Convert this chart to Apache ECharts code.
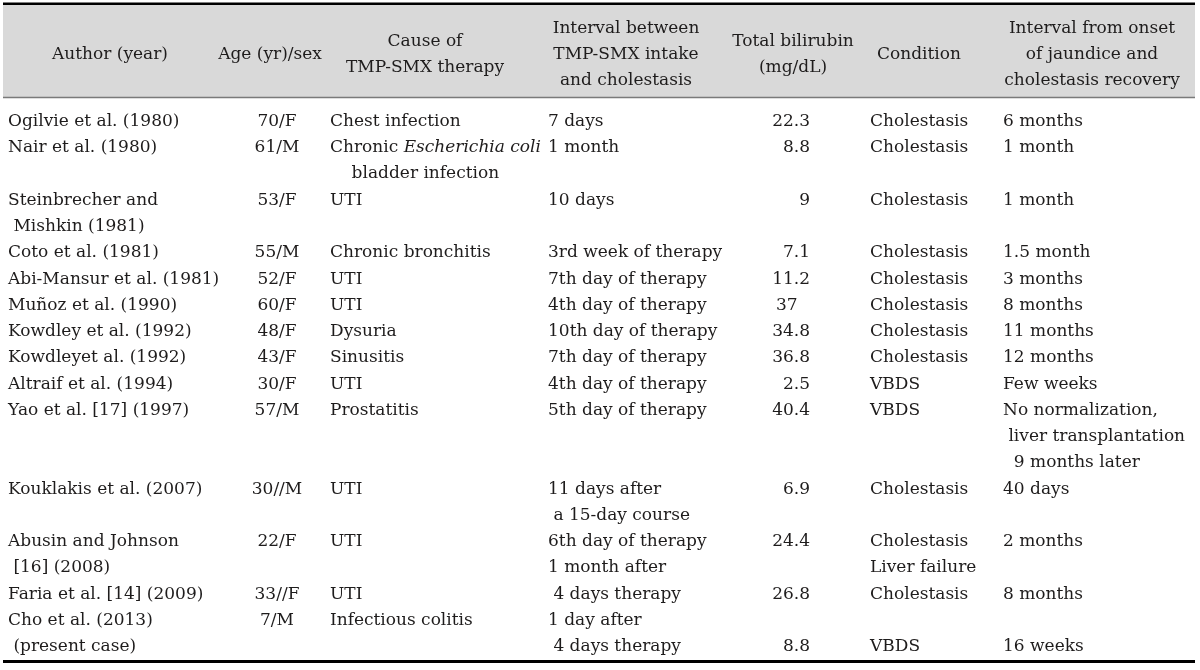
<!DOCTYPE html>
<html><head><meta charset="utf-8">
<script src="https://cdn.jsdelivr.net/npm/echarts@6/dist/echarts.min.js"></script>
<style>html,body{margin:0;padding:0;background:#fff}#c{width:1200px;height:670px}</style>
</head><body><div id="c"></div>
<script>
// ---------- DATA ----------
const headers = ["Author (year)", "Age (yr)/sex", "Cause of\nTMP-SMX therapy",
  "Interval between\nTMP-SMX intake\nand cholestasis", "Total bilirubin\n(mg/dL)",
  "Condition", "Interval from onset\nof jaundice and\ncholestasis recovery"];
const authors = ["Ogilvie et al. (1980)", "Nair et al. (1980)", "Steinbrecher and\n Mishkin (1981)",
  "Coto et al. (1981)", "Abi-Mansur et al. (1981)", "Muñoz et al. (1990)", "Kowdley et al. (1992)",
  "Kowdleyet al. (1992)", "Altraif et al. (1994)", "Yao et al. [17] (1997)", "Kouklakis et al. (2007)",
  "Abusin and Johnson\n [16] (2008)", "Faria et al. [14] (2009)", "Cho et al. (2013)\n (present case)"];
const ages = ["70/F", "61/M", "53/F", "55/M", "52/F", "60/F", "48/F", "43/F", "30/F", "57/M", "30//M", "22/F", "33//F", "7/M"];
const causes = ["Chest infection", "Chronic {i|Escherichia coli}\n    bladder infection", "UTI", "Chronic bronchitis",
  "UTI", "UTI", "Dysuria", "Sinusitis", "UTI", "Prostatitis", "UTI", "UTI", "UTI", "Infectious colitis"];
const intervals = ["7 days", "1 month", "10 days", "3rd week of therapy", "7th day of therapy", "4th day of therapy",
  "10th day of therapy", "7th day of therapy", "4th day of therapy", "5th day of therapy",
  "11 days after\n a 15-day course", "6th day of therapy\n1 month after", " 4 days therapy", "1 day after\n 4 days therapy"];
const bilirubin = [22.3, 8.8, 9, 7.1, 11.2, 37, 34.8, 36.8, 2.5, 40.4, 6.9, 24.4, 26.8, 8.8];
const conditions = ["Cholestasis", "Cholestasis", "Cholestasis", "Cholestasis", "Cholestasis", "Cholestasis",
  "Cholestasis", "Cholestasis", "VBDS", "VBDS", "Cholestasis", "Cholestasis\nLiver failure", "Cholestasis", "VBDS"];
const recovery = ["6 months", "1 month", "1 month", "1.5 month", "3 months", "8 months", "11 months", "12 months",
  "Few weeks", "No normalization,\n liver transplantation\n  9 months later", "40 days", "2 months", "8 months", "16 weeks"];

// ---------- LAYOUT ----------
const columns = [
  {values: authors,   x: 8,    align: 'left',   head: 110},
  {values: ages,      x: 277,  align: 'center', head: 270},
  {values: causes,    x: 330,  align: 'left',   head: 425},
  {values: intervals, x: 548,  align: 'left',   head: 626},
  {values: bilirubin.map(v => String(v)), x: 810, align: 'right', head: 793},
  {values: conditions, x: 870, align: 'left',   head: 919},
  {values: recovery,  x: 1003, align: 'left',   head: 1092}
];
// layout quirks of the source table
const lineOffset = {13: {4: 1, 5: 1, 6: 1}};       // row 13: last three cells sit on 2nd line
const alignOverride = {'5,4': {x: 776, align: 'left'}}; // "37" printed left
const headerCenterK = -2.552;
const FONT = '"DejaVu Serif", "Liberation Serif", serif';
const FS = 17;
const INK = '#1e1c1c';

// build text items
const items = [];
headers.forEach((h, c) => {
  const lines = h.split('\n');
  const start = headerCenterK - (lines.length - 1) / 2;
  lines.forEach((t, i) => items.push({x: columns[c].head, k: start + i, text: t, align: 'center'}));
});
let k0 = 0;
authors.forEach((_, r) => {
  let rowLines = 1;
  columns.forEach((col, c) => {
    const off = (lineOffset[r] && lineOffset[r][c]) || 0;
    const lines = col.values[r].split('\n');
    rowLines = Math.max(rowLines, lines.length + off);
    const ov = alignOverride[r + ',' + c] || {};
    lines.forEach((t, i) => items.push({
      x: ov.x !== undefined ? ov.x : col.x, k: k0 + off + i, text: t,
      align: ov.align || col.align
    }));
  });
  k0 += rowLines;
});
const totalLines = k0;

const chart = echarts.init(document.getElementById('c'), null, {renderer: 'canvas'});
chart.setOption({
  animation: false,
  backgroundColor: '#ffffff',
  grid: {left: 0, right: 0, top: 0, bottom: 0},
  xAxis: {type: 'value', min: 0, max: 1200, show: false},
  yAxis: {type: 'value', min: -4.63, max: 20.89, inverse: true, show: false},
  series: [
    {
      type: 'custom', silent: true, clip: false, z: 1,
      data: [[0, 0]],
      renderItem: function (params, api) {
        const tl = api.coord([3, -4.438]);
        const br = api.coord([1195, -0.914]);
        const topY = api.coord([0, -4.49])[1];
        const botY = api.coord([0, totalLines - 0.43])[1];
        return {type: 'group', children: [
          {type: 'rect', shape: {x: tl[0], y: tl[1], width: br[0] - tl[0], height: br[1] - tl[1]},
            style: {fill: '#d9d9d9'}},
          {type: 'line', shape: {x1: tl[0], y1: topY, x2: br[0], y2: topY}, style: {stroke: '#000', lineWidth: 2.5}},
          {type: 'line', shape: {x1: tl[0], y1: br[1], x2: br[0], y2: br[1]}, style: {stroke: '#7a7a7a', lineWidth: 1.5}},
          {type: 'line', shape: {x1: tl[0], y1: botY, x2: br[0], y2: botY}, style: {stroke: '#000', lineWidth: 3}}
        ]};
      }
    },
    {
      type: 'custom', silent: true, clip: false, z: 2,
      data: items.map((it, i) => [it.x, it.k, i]),
      renderItem: function (params, api) {
        const it = items[params.dataIndex];
        const p = api.coord([api.value(0), api.value(1)]);
        return {type: 'text', x: p[0], y: p[1], style: {
          text: it.text, fill: INK, font: FS + 'px ' + FONT,
          align: it.align, verticalAlign: 'middle',
          rich: {i: {fontStyle: 'italic', fontSize: FS, fontFamily: FONT, fill: INK}}
        }};
      }
    }
  ]
});
</script></body></html>
